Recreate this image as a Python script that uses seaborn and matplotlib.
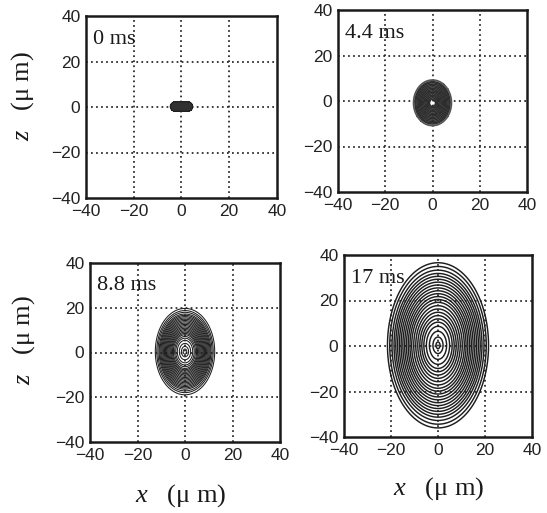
import numpy as np
import matplotlib
matplotlib.use("Agg")
import matplotlib.pyplot as plt
import seaborn as sns

# ---------------- data ----------------
panel_labels = ["0 ms", "4.4 ms", "8.8 ms", "17 ms"]
semi_x = [4.7, 8.0, 12.5, 21.5]      # outer contour half-width in x (um)
semi_z = [2.1, 10.0, 19.3, 36.3]     # outer contour half-height in z (um)
center_z = [0.2, -0.8, 0.4, 0.3]     # centre of the distribution in z (um)
core_x = [2.6, 0.0, 0.0, 0.0]        # flat core half-length (stadium shape at 0 ms)
ticks = [-40, -20, 0, 20, 40]
grid_vals = [-20, 0, 20]

levels_0 = [0.0, 1.0]  # filled blob
levels_1 = [0.16, 0.22, 0.28, 0.34, 0.40, 0.46, 0.52, 0.58, 0.64, 0.70, 0.76, 0.82, 0.88, 0.93]
outer_1 = [1.0]
levels_2 = [0.06, 0.12, 0.19, 0.26, 0.31, 0.35, 0.39, 0.42, 0.45, 0.48, 0.51, 0.54,
            0.57, 0.60, 0.63, 0.66, 0.69, 0.72, 0.75, 0.78, 0.81, 0.84, 0.87, 0.91, 0.95, 1.0]
levels_3 = [0.04, 0.1, 0.17, 0.23, 0.28, 0.32, 0.36, 0.40, 0.44, 0.48, 0.52, 0.555,
            0.59, 0.625, 0.66, 0.695, 0.73, 0.765, 0.80, 0.835, 0.87, 0.91, 0.955, 1.0]

# ---------------- style ----------------
sns.set_theme(style="white")
plt.rcParams["font.family"] = ["Liberation Sans", "DejaVu Sans"]
plt.rcParams["mathtext.fontset"] = "custom"
plt.rcParams["mathtext.rm"] = "Liberation Serif"
plt.rcParams["mathtext.it"] = "Liberation Serif:italic"

W, H = 547, 513
fig = plt.figure(figsize=(W / 100, H / 100), dpi=100)
fig.patch.set_facecolor("white")

boxes = [  # left, top, right, bottom in pixels
    (86, 16, 277, 198),
    (338, 10, 527, 192),
    (90, 263, 280, 442),
    (344, 255, 532, 437),
]

xs = np.linspace(-40, 40, 801)
X, Z = np.meshgrid(xs, xs)
ink = "#1e1e1e"

for i, (l, t, r, b) in enumerate(boxes):
    ax = fig.add_axes([l / W, 1 - b / H, (r - l) / W, (b - t) / H])
    ax.set_facecolor("white")
    ax.set_xlim(-40, 40)
    ax.set_ylim(-40, 40)
    ax.set_xticks(ticks)
    ax.set_yticks(ticks)
    ax.tick_params(length=0, pad=4, labelsize=12.5, colors="#222222")
    for s in ax.spines.values():
        s.set_linewidth(1.8)
        s.set_color("#1a1a1a")
    for g in grid_vals:
        ax.axvline(g, color="#222222", lw=1.25, ls=(0, (1, 1.9)), zorder=1)
        ax.axhline(g, color="#222222", lw=1.25, ls=(0, (1, 1.9)), zorder=1)

    dx = np.clip(np.abs(X) - core_x[i], 0, None)
    rho = np.sqrt((dx / (semi_x[i] - core_x[i])) ** 2 + ((Z - center_z[i]) / semi_z[i]) ** 2)

    if i == 0:
        ax.contourf(X, Z, rho, levels=levels_0, colors=["#303030"], zorder=2)
        ax.contour(X, Z, rho, levels=[1.0], colors=[ink], linewidths=0.8, zorder=3)
    elif i == 1:
        ax.contour(X, Z, rho, levels=levels_1, colors=["#2e2e2e"], linewidths=1.15, zorder=2)
        ax.contour(X, Z, rho, levels=outer_1, colors=["#555555"], linewidths=1.3, zorder=2)
    elif i == 2:
        ax.contour(X, Z, rho, levels=levels_2, colors=[ink], linewidths=0.75, zorder=2)
    else:
        ax.contour(X, Z, rho, levels=levels_3, colors=[ink], linewidths=1.05, zorder=2)

    ax.text(0.035, 0.925, panel_labels[i], transform=ax.transAxes, ha="left", va="top",
            fontsize=16, family="Liberation Serif", color="#1a1a1a", zorder=5)

lab_kw = dict(fontsize=19, family="Liberation Serif", color="#1a1a1a", ha="center", va="center")
fig.text(23 / W, 1 - 96 / H, r"$z$   (μ m)", rotation=90, **lab_kw)
fig.text(24 / W, 1 - 340 / H, r"$z$   (μ m)", rotation=90, **lab_kw)
fig.text(181 / W, 1 - 496 / H, r"$x$   (μ m)", **lab_kw)
fig.text(439 / W, 1 - 489 / H, r"$x$   (μ m)", **lab_kw)

fig.savefig("out.png", dpi=100, facecolor="white")
